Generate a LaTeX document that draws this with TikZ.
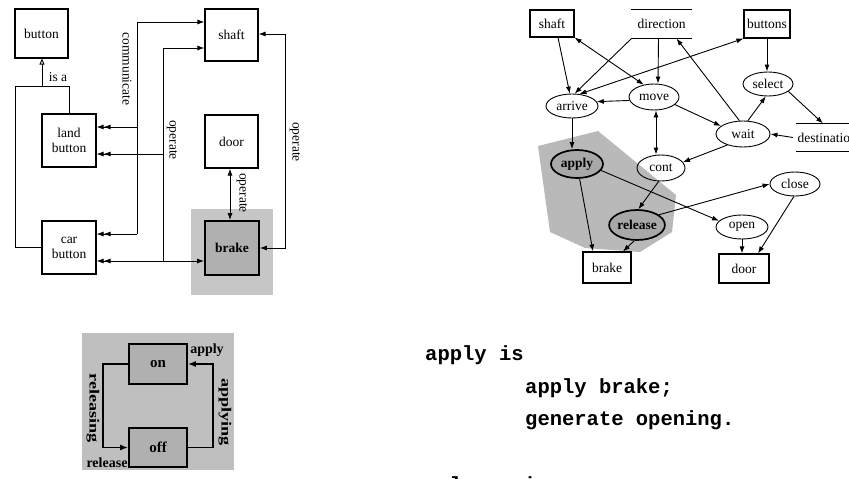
\documentclass[tikz,border=0pt]{standalone}
\usepackage{fontspec}
\setmainfont{Liberation Serif}
\setmonofont{Liberation Mono}
\usetikzlibrary{arrows.meta,shapes.geometric}
\tikzset{
  lbl/.style={font=\fontsize{13.5pt}{14pt}\selectfont, inner sep=1pt},
  blbl/.style={font=\bfseries\fontsize{14pt}{15pt}\selectfont, inner sep=1pt},
  lbox/.style={draw, line width=1.1pt, minimum width=53pt, minimum height=53pt, inner sep=0pt, align=center, font=\fontsize{13.5pt}{15pt}\selectfont},
  rbox/.style={draw, line width=1.1pt, inner sep=0pt, font=\fontsize{13.5pt}{15pt}\selectfont},
  proc/.style={ellipse, draw, line width=0.9pt, inner sep=0pt, font=\fontsize{13.5pt}{15pt}\selectfont},
  hot/.style={proc, line width=1.7pt, fill=gray!68, font=\bfseries\fontsize{13.5pt}{15pt}\selectfont},
  sbox/.style={draw, line width=1.6pt, fill=gray!62, minimum width=58pt, minimum height=40pt, inner sep=0pt, font=\bfseries\fontsize{15pt}{16pt}\selectfont},
  ln/.style={line width=0.9pt},
  thk/.style={line width=1.6pt},
  a1/.style={-{Latex[length=7pt,width=5pt]}},
  a2/.style={-{Latex[length=7pt,width=5pt]Latex[length=7pt,width=5pt]}},
  code/.style={anchor=west, inner sep=0pt, font=\ttfamily\bfseries\fontsize{20.5pt}{24pt}\selectfont},
}
\begin{document}
\begin{tikzpicture}[x=1pt,y=-1pt]
\useasboundingbox (0,0) rectangle (849,479);
\clip (0,0) rectangle (849,479);
\fill[white] (0,0) rectangle (849,479);

% ---------------- left class diagram ----------------
\fill[gray!45] (191,209) rectangle (273,295);
\node[lbox, minimum height=49pt] (button) at (41.5,33.5) {button};
\node[lbox, minimum width=54pt] (land) at (69,140.5) {land\\button};
\node[lbox, minimum width=54pt] (car) at (69,247.5) {car\\button};
\node[lbox, minimum height=52pt] (shaftL) at (231.5,35) {shaft};
\node[lbox] (door) at (231.5,141.5) {door};
\node[lbox, minimum width=54pt, minimum height=54pt, fill=gray!62, line width=1.7pt, font=\bfseries\fontsize{13.5pt}{15pt}\selectfont] (brakeL) at (232,248) {brake};

\coordinate (isaJ) at (42,86);
\coordinate (isaL) at (15,86);
\draw[ln] (land.north) |- (isaL) |- (car.west);
\draw[ln,-{Triangle[open,length=6pt,width=5pt]}] (isaJ) -- (button.south -| isaJ);
\node[lbl] at (58,77) {is a};

\coordinate (cT) at (137,22);
\coordinate (cM) at (137,127);
\coordinate (cB) at (137,234);
\draw[ln,a1] (cB) -- (cT) -- (cT -| shaftL.west);
\draw[ln,a2] (cM) -- (cM -| land.east);
\draw[ln,a2] (cB) -- (cB -| car.east);
\node[lbl, rotate=-90] at (127,69) {communicate};

\coordinate (oT) at (163,48);
\coordinate (oM) at (163,154);
\coordinate (oB) at (163,261);
\draw[ln,a1] (oB) -- (oT) -- (oT -| shaftL.west);
\draw[ln,a2] (oM) -- (oM -| land.east);
\draw[ln,{Latex[length=7pt,width=5pt]Latex[length=7pt,width=5pt]}-{Latex[length=7pt,width=5pt]}] (car.east |- oB) -- (brakeL.west |- oB);
\node[lbl, rotate=-90] at (172,140) {operate};

\coordinate (rT) at (285,34);
\coordinate (rB) at (285,248);
\draw[ln,{Latex[length=7pt,width=5pt]}-{Latex[length=7pt,width=5pt]}] (shaftL.east |- rT) -- (rT) -- (rB) -- (brakeL.east |- rB);
\node[lbl, rotate=-90] at (295,142) {operate};

\draw[ln,{Latex[length=7pt,width=5pt]}-{Latex[length=7pt,width=5pt]}] ([xshift=-1.5pt]door.south) -- ([xshift=-2pt]brakeL.north);
\node[lbl, rotate=-90] at (242,193) {operate};

% ---------------- right process diagram ----------------
\fill[gray!55] (538,146) -- (598,131) -- (676,195) -- (672,232) -- (640,252) -- (585,248) -- (550,232) -- cycle;

\node[rbox, minimum width=44pt, minimum height=27pt] (shaftR) at (552,23.5) {shaft};
\node[rbox, draw=none, minimum width=59pt, minimum height=28pt] (direction) at (661.5,24) {direction};
\draw[line width=1.1pt] (direction.north west) -- (direction.north east) (direction.south west) -- (direction.south east);
\node[rbox, minimum width=46pt, minimum height=28pt] (buttons) at (767,24) {buttons};
\node[rbox, draw=none, anchor=west, minimum height=27pt, inner xsep=1pt] (dest) at (796,137.5) {destination};
\draw[line width=1.1pt] (dest.north west) -- ++(80,0) (dest.south west) -- ++(80,0);
\node[rbox, minimum width=48pt, minimum height=31pt] (brakeR) at (607,267.5) {brake};
\node[rbox, minimum width=50pt, minimum height=29pt] (doorR) at (744,268.5) {door};

\node[proc, minimum width=52pt, minimum height=24pt] (arrive) at (572,106) {arrive};
\node[proc, minimum width=50pt, minimum height=26pt] (move) at (654,97) {move};
\node[proc, minimum width=50pt, minimum height=24pt] (select) at (768,84) {select};
\node[proc, minimum width=54pt, minimum height=26pt] (wait) at (743,134) {wait};
\node[proc, minimum width=48pt, minimum height=26pt] (cont) at (661,168) {cont};
\node[hot, minimum width=52pt, minimum height=28pt] (apply) at (577,164) {apply};
\node[proc, minimum width=50pt, minimum height=24pt] (close) at (795,184) {close};
\node[hot, minimum width=52pt, minimum height=30pt] (release) at (637,225) {release};
\node[proc, minimum width=52pt, minimum height=24pt] (open) at (742,227) {open};

\draw[ln,a1] ([xshift=6pt]shaftR.south) -- (arrive.100);
\draw[ln,a1] (direction.south west) -- (arrive.78);
\draw[ln,{Latex[length=7pt,width=5pt]}-{Latex[length=7pt,width=5pt]}] (arrive.58) -- (buttons.south west);
\draw[ln,{Latex[length=7pt,width=5pt]}-{Latex[length=7pt,width=5pt]}] (move.130) -- (shaftR.south east);
\draw[ln,a1] (move.188) -- (arrive.10);
\draw[ln,a1] ([xshift=-3pt]direction.south) -- ([xshift=4pt]move.north);
\draw[ln,a1] (move.-20) -- (wait.160);
\draw[ln,{Latex[length=7pt,width=5pt]}-{Latex[length=7pt,width=5pt]}] ([xshift=2pt]move.south) -- ([xshift=-5pt]cont.north);
\draw[ln,a1] (wait.105) -- ([xshift=15pt]direction.south);
\draw[ln,a1] (wait.70) -- (select.-100);
\draw[ln,a1] (buttons.south) -- (buttons.south |- select.north);
\draw[ln,a1] (select.-20) -- ([xshift=27pt]dest.north west);
\draw[ln,a1] ([xshift=-3pt]dest.west) -- (wait.east);
\draw[ln,a1] (wait.-145) -- (cont.15);
\draw[ln,a1] (arrive.south) -- (arrive.south |- apply.north);
\draw[ln,a1] (apply.-80) -- ([xshift=-14pt]brakeR.north);
\draw[ln,a1] (apply.-15) -- (open.165);
\draw[ln,a1] (cont.-100) -- (release.85);
\draw[ln,a1] (release.25) -- (close.180);
\draw[ln,a1] (release.-100) -- ([xshift=16pt]brakeR.north);
\draw[ln,a1] (open.south) -- (open.south |- doorR.north);
\draw[ln,a1] (close.-95) -- ([xshift=14pt]doorR.north);

% ---------------- bottom-left state diagram ----------------
\fill[gray!50] (82,333) rectangle (234,470);
\node[sbox] (on) at (158,364) {on};
\node[sbox, minimum height=39pt] (off) at (158,447.5) {off};
\coordinate (rl) at (103,364);
\coordinate (ra) at (213,447.5);
\draw[thk,-{Latex[length=8pt,width=6pt]}] (on.west) -- (rl) |- (off.west);
\draw[thk,-{Latex[length=8pt,width=6pt]}] (off.east) -- (ra) |- (on.east);
\node[blbl] at (207,350) {apply};
\node[blbl, rotate=-90] at (225,412) {\scalebox{1.3}[1]{applying}};
\node[blbl] at (107,463) {release};
\node[blbl, rotate=-90] at (93,408) {\scalebox{1.3}[1]{releasing}};

% ---------------- code ----------------
\node[code] (c1) at (425,355) {apply is};
\node[code] (c2) at (525,388) {apply brake;};
\node[code] (c3) at (525,420) {generate opening.};
\node[code] (c4) at (425,484) {release is};
\end{tikzpicture}
\end{document}
